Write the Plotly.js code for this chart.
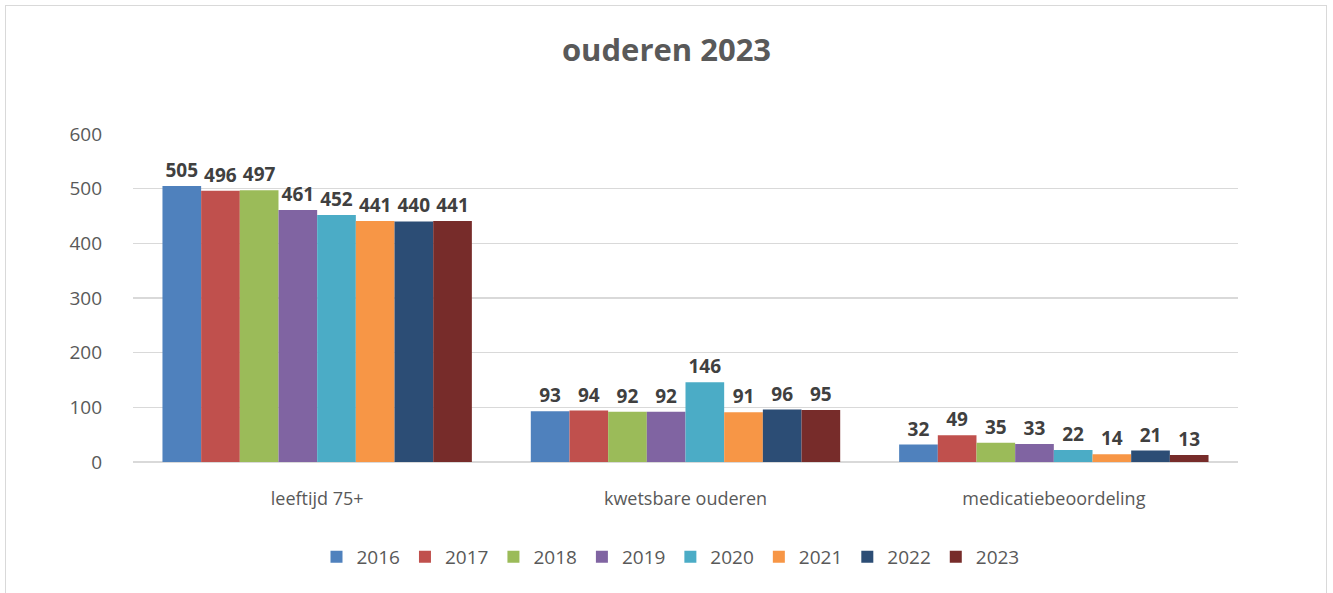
<!DOCTYPE html>
<html>
<head>
<meta charset="utf-8">
<script src="https://cdn.plot.ly/plotly-3.0.1.min.js"></script>
<style>
  html, body { margin: 0; padding: 0; background: #ffffff; }
  #frame { position: absolute; left: 5px; top: 5px; width: 1322px; height: 600px; border: 1px solid #d9d9d9; box-sizing: border-box; }
  #chart { position: absolute; left: 0; top: 0; width: 1333px; height: 593px; }
</style>
</head>
<body>
<div id="frame"></div>
<div id="chart"></div>
<script>
const categories = ["leeftijd 75+", "kwetsbare ouderen", "medicatiebeoordeling"];
const years = ["2016", "2017", "2018", "2019", "2020", "2021", "2022", "2023"];
const v2016 = [505, 93, 32];
const v2017 = [496, 94, 49];
const v2018 = [497, 92, 35];
const v2019 = [461, 92, 33];
const v2020 = [452, 146, 22];
const v2021 = [441, 91, 14];
const v2022 = [440, 96, 21];
const v2023 = [441, 95, 13];
const seriesValues = [v2016, v2017, v2018, v2019, v2020, v2021, v2022, v2023];
const colors = ["#4f81bd", "#c0504d", "#9bbb59", "#8064a2", "#4bacc6", "#f79646", "#2c4d75", "#772c2a"];

const font = "'Open Sans', 'Noto Sans', sans-serif";

const traces = years.map((y, i) => ({
  type: "bar",
  name: y,
  x: categories,
  y: seriesValues[i],
  marker: { color: colors[i] },
  text: seriesValues[i].map(String),
  textposition: "outside",
  cliponaxis: false,
  textfont: { family: font, size: 19, color: "#404040", weight: "bold" },
  hoverinfo: "x+y+name"
}));

const layout = {
  width: 1333,
  height: 593,
  paper_bgcolor: "rgba(0,0,0,0)",
  plot_bgcolor: "rgba(0,0,0,0)",
  margin: { l: 133, r: 95, t: 134, b: 131, autoexpand: false },
  title: {
    text: "<b>ouderen 2023</b>",
    x: 0.5, xanchor: "center",
    y: 0.915, yanchor: "middle",
    font: { family: font, size: 31, color: "#595959" }
  },
  barmode: "group",
  bargap: 0.16,
  bargroupgap: 0,
  xaxis: {
    type: "category",
    tickfont: { family: font, size: 18, color: "#595959" },
    showgrid: false,
    showline: false,
    ticks: "",
    ticklen: 0,
    ticklabelstandoff: 24
  },
  yaxis: {
    range: [0, 600],
    dtick: 100,
    tick0: 0,
    showgrid: true,
    gridcolor: "#d9d9d9",
    gridwidth: 1.5,
    zeroline: true,
    zerolinecolor: "#d9d9d9",
    zerolinewidth: 1.5,
    showline: false,
    ticks: "",
    ticklabelstandoff: 30,
    tickfont: { family: font, size: 19, color: "#595959" }
  },
  showlegend: true,
  legend: {
    orientation: "h",
    xref: "container",
    x: 0.503, xanchor: "center",
    yref: "container",
    y: 0.061, yanchor: "middle",
    font: { family: font, size: 19, color: "#595959" },
    traceorder: "normal"
  }
};

Plotly.newPlot("chart", traces, layout, { displayModeBar: false, staticPlot: true });
</script>
</body>
</html>
